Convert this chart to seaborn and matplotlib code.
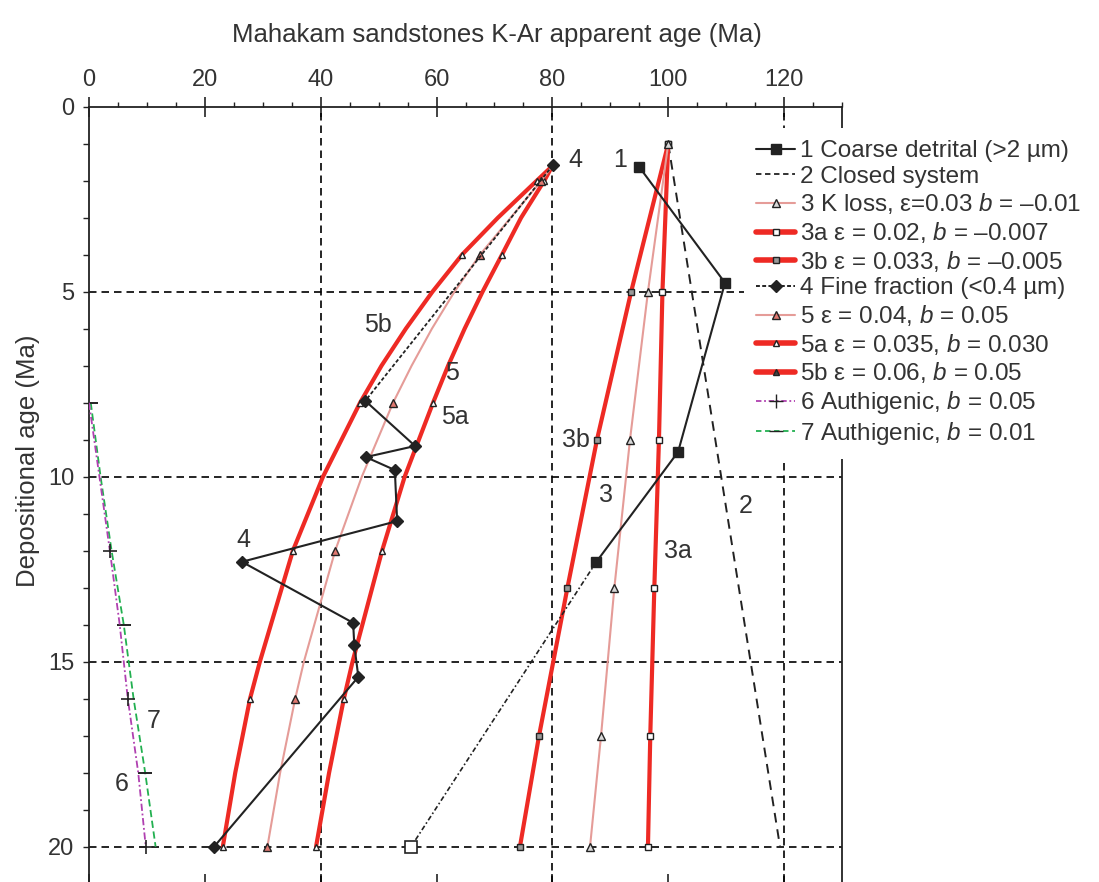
import matplotlib
matplotlib.use("Agg")
import matplotlib.pyplot as plt
from matplotlib.lines import Line2D
from matplotlib.ticker import MultipleLocator, FixedLocator
import seaborn as sns
import pandas as pd

# ---------------- data ----------------
# 1 Coarse detrital (>2 um)
dep_1 = [1.63, 4.76, 9.33, 12.3]
age_1 = [95.0, 109.8, 101.7, 87.6]
dep_1_ext = [12.3, 20.0]
age_1_ext = [87.6, 55.6]

# 2 Closed system
dep_2 = [1.0, 20.0]
age_2 = [100.0, 119.3]

# 3 group (K loss)
dep_3 = [1, 5, 9, 13, 17, 20]
age_3 = [100.0, 96.5, 93.4, 90.7, 88.4, 86.5]
age_3a = [100.0, 99.0, 98.4, 97.6, 96.9, 96.5]
age_3b = [100.0, 93.6, 87.7, 82.6, 77.7, 74.4]

# 4 Fine fraction (<0.4 um)
dep_4 = [1.58, 7.95, 9.17, 9.47, 9.82, 11.2, 12.3, 13.95, 14.55, 15.41, 20.0]
age_4 = [80.1, 47.7, 56.3, 47.8, 52.8, 53.2, 26.4, 45.6, 45.8, 46.5, 21.6]

# 5 group
dep_5 = [1.6, 2, 3, 4, 5, 6, 7, 8, 10, 12, 15, 16, 18, 20]
mark_5 = [1, 3, 7, 9, 11, 13]
age_5 = [80.0, 78.1, 72.8, 67.5, 63.1, 59.2, 55.7, 52.5, 47.1, 42.5, 37.1, 35.6, 33.0, 30.8]
age_5a = [80.0, 78.6, 74.6, 71.3, 67.95, 64.85, 62.0, 59.4, 54.5, 50.6, 45.5, 44.0, 41.45, 39.2]
age_5b = [80.0, 77.3, 70.6, 64.4, 59.3, 54.7, 50.5, 46.8, 40.4, 35.2, 29.5, 27.8, 25.25, 23.1]

# 6 / 7 Authigenic
dep_67 = [8, 10, 12, 14, 16, 18, 20]
age_6 = [0.0, 1.8, 3.6, 5.3, 6.7, 8.5, 9.8]
age_7 = [0.3, 2.0, 3.9, 6.0, 7.7, 9.7, 11.5]
mark_6 = [2, 4, 6]
mark_7 = [0, 3, 5]

legend_labels = [
    "1 Coarse detrital (>2 µm)",
    "2 Closed system",
    "3 K loss, ε=0.03 $b$ = –0.01",
    "3a ε = 0.02, $b$ = –0.007",
    "3b ε = 0.033, $b$ = –0.005",
    "4 Fine fraction (<0.4 µm)",
    "5 ε = 0.04, $b$ = 0.05",
    "5a ε = 0.035, $b$ = 0.030",
    "5b ε = 0.06, $b$ = 0.05",
    "6 Authigenic, $b$ = 0.05",
    "7 Authigenic, $b$ = 0.01",
]

curve_labels = ["1", "4", "5b", "5", "5a", "3b", "3", "3a", "2", "4", "7", "6"]
curve_label_x = [91.7, 83.9, 49.9, 62.7, 63.2, 84.1, 89.3, 101.7, 113.3, 26.6, 11.1, 5.7]
curve_label_y = [1.44, 1.44, 5.9, 7.2, 8.4, 9.0, 10.5, 12.0, 10.8, 11.7, 16.6, 18.3]

x_ticks = [0, 20, 40, 60, 80, 100, 120]
y_ticks = [0, 5, 10, 15, 20]
grid_x = [40, 80, 120]
grid_y = [5, 10, 15, 20]

# ---------------- style ----------------
sns.set_theme(style="white")
plt.rcParams["font.family"] = ["Liberation Sans", "DejaVu Sans"]
plt.rcParams["mathtext.fontset"] = "custom"
plt.rcParams["mathtext.rm"] = "Liberation Sans"
plt.rcParams["mathtext.it"] = "Liberation Sans:italic"

BLK = "#222222"
RED = "#ee2a24"
PINK = "#e59c98"
MAG = "#b040b0"
GRN = "#22b050"
TXT = "#333333"

W, H = 1099, 882
fig = plt.figure(figsize=(W / 100, H / 100), dpi=100)
left, right, top, bottom = 89, 842, 106.7, 883.7
ax = fig.add_axes([left / W, 1 - bottom / H, (right - left) / W, (bottom - top) / H])
ax.set_facecolor("white")

for gx in grid_x:
    ax.axvline(gx, color="black", lw=1.2, dashes=(4.5, 3), zorder=1)
for gy in grid_y:
    ax.axhline(gy, color="black", lw=1.2, dashes=(4.5, 3), zorder=1)


def line(x, y, **kw):
    sns.lineplot(x=x, y=y, sort=False, estimator=None, ax=ax, legend=False, **kw)


# 2 closed system
line(age_2, dep_2, color=BLK, lw=1.4, linestyle=(0, (5, 3.5)), zorder=3)
# 3 group
line(age_3b, dep_3, color=RED, lw=3, marker="s", ms=5, mfc="#9a9a9a", mec=BLK, mew=1, zorder=4)
line(age_3a, dep_3, color=RED, lw=3, marker="s", ms=5, mfc="white", mec=BLK, mew=1, zorder=4)
line(age_3, dep_3, color=PINK, lw=1.5, marker="^", ms=6, mfc="#d8d8d8", mec=BLK, mew=1, zorder=5)
# 5 group
line(age_5b, dep_5, color=RED, lw=3, marker="^", ms=5, mfc="white", mec=BLK, mew=1,
     markevery=mark_5, zorder=4)
line(age_5a, dep_5, color=RED, lw=3, marker="^", ms=5, mfc="white", mec=BLK, mew=1,
     markevery=mark_5, zorder=4)
line(age_5, dep_5, color=PINK, lw=1.5, marker="^", ms=6, mfc="#e07870", mec=BLK, mew=1,
     markevery=mark_5, zorder=5)
# 1 coarse detrital
line(age_1_ext, dep_1_ext, color=BLK, lw=1.2, linestyle=(0, (3, 1.5, 1, 1.5)), zorder=6)
ax.plot(age_1_ext[-1:], dep_1_ext[-1:], ls="none", marker="s", ms=8, mfc="white", mec=BLK, mew=1.2, zorder=7)
line(age_1, dep_1, color=BLK, lw=1.5, marker="s", ms=7.5, mfc=BLK, mec=BLK, mew=1, zorder=7)
# 4 fine fraction
line(age_4[:2], dep_4[:2], color=BLK, lw=1.3, linestyle=(0, (2, 1.2)), zorder=6)
line(age_4[1:], dep_4[1:], color=BLK, lw=1.5, marker="D", ms=6.5, mfc=BLK, mec=BLK, mew=1, zorder=7)
ax.plot(age_4[:1], dep_4[:1], ls="none", marker="D", ms=6.5, mfc=BLK, mec=BLK, zorder=7)
# 6 / 7 authigenic
line(age_7, dep_67, color=GRN, lw=1.3, linestyle=(0, (4, 2)), marker="_", ms=10, mec=BLK,
     mew=1.4, markevery=mark_7, zorder=6)
line(age_6, dep_67, color=MAG, lw=1.3, linestyle=(0, (4, 1.5, 1, 1.5)), marker="+", ms=10, mec=BLK,
     mew=1.2, markevery=mark_6, zorder=6)

for t, x, y in zip(curve_labels, curve_label_x, curve_label_y):
    ax.text(x, y, t, fontsize=18, color=TXT, ha="center", va="center", zorder=8)

# ---------------- axes ----------------
ax.set_xlim(0, 130)
ax.set_ylim(21, 0)
ax.xaxis.set_major_locator(FixedLocator(x_ticks))
ax.xaxis.set_minor_locator(MultipleLocator(5))
ax.yaxis.set_major_locator(FixedLocator(y_ticks))
ax.yaxis.set_minor_locator(MultipleLocator(1))
ax.xaxis.tick_top()
ax.xaxis.set_label_position("top")
ax.tick_params(axis="x", which="major", top=True, bottom=True, labeltop=True, labelbottom=False,
               direction="inout", length=14, width=1.2, color=BLK, labelsize=17, labelcolor=TXT, pad=4)
ax.tick_params(axis="x", which="minor", top=True, bottom=False, direction="out", length=3.5, width=1, color=BLK)
ax.tick_params(axis="y", which="both", left=True, right=False, direction="out", length=4.5, width=1,
               color=BLK, labelsize=17, labelcolor=TXT, pad=6)
for s in ax.spines.values():
    s.set_visible(True)
    s.set_color(BLK)
    s.set_linewidth(1.3)
ax.spines["bottom"].set_visible(False)

ax.set_xlabel("Mahakam sandstones K-Ar apparent age (Ma)", fontsize=18.5, color=TXT)
ax.xaxis.set_label_coords((497 - left) / (right - left), (bottom - 42) / (bottom - top))
ax.set_ylabel("Depositional age (Ma)", fontsize=18.5, color=TXT)
ax.yaxis.set_label_coords((40 - left) / (right - left), (bottom - 461) / (bottom - top))

# ---------------- legend ----------------
handles = [
    Line2D([], [], color=BLK, lw=1.5, marker="s", ms=7, mfc=BLK, mec=BLK),
    Line2D([], [], color=BLK, lw=1.3, ls=(0, (3, 2))),
    Line2D([], [], color=PINK, lw=1.5, marker="^", ms=6, mfc="#d8d8d8", mec=BLK),
    Line2D([], [], color=RED, lw=4, marker="s", ms=5, mfc="white", mec=BLK),
    Line2D([], [], color=RED, lw=4, marker="s", ms=5, mfc="#9a9a9a", mec=BLK),
    Line2D([], [], color=BLK, lw=1.4, ls=(0, (2, 1.2)), marker="D", ms=6, mfc=BLK, mec=BLK),
    Line2D([], [], color=PINK, lw=1.5, marker="^", ms=6, mfc="#e07870", mec=BLK),
    Line2D([], [], color=RED, lw=4, marker="^", ms=5, mfc="white", mec=BLK),
    Line2D([], [], color=RED, lw=4, marker="^", ms=5, mfc="#444444", mec=BLK),
    Line2D([], [], color=MAG, lw=1.3, ls=(0, (3, 1.5, 1, 1.5)), marker="+", ms=10, mec=BLK),
    Line2D([], [], color=GRN, lw=1.3, ls=(0, (3, 2)), marker="_", ms=10, mec=BLK),
]
leg = ax.legend(handles, legend_labels, loc="upper left", bbox_to_anchor=(744 / W, 1 - 128 / H),
                bbox_transform=fig.transFigure, fontsize=17.5, handlelength=1.6, handletextpad=0.2,
                labelspacing=0.15, borderpad=0.5, borderaxespad=0, frameon=True, fancybox=False,
                framealpha=1, facecolor="white", edgecolor="none")
for t in leg.get_texts():
    t.set_color(TXT)
leg.set_zorder(10)

fig.savefig("out.png", dpi=100)
